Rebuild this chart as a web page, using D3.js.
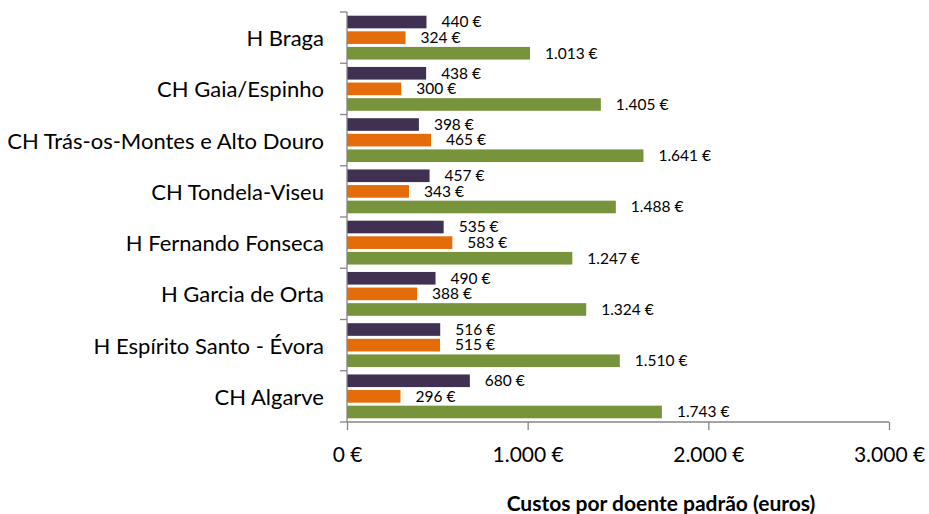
<!DOCTYPE html>
<html>
<head>
<meta charset="utf-8">
<script src="https://cdn.jsdelivr.net/npm/d3@7"></script>
<style>
  html, body { margin: 0; padding: 0; background: #fff; }
  svg { display: block; }
  text { font-family: Lato, "Open Sans", sans-serif; fill: #000; }
</style>
</head>
<body>
<svg id="chart" width="929" height="514"></svg>
<script>
const categories = ["H Braga", "CH Gaia/Espinho", "CH Trás-os-Montes e Alto Douro", "CH Tondela-Viseu",
  "H Fernando Fonseca", "H Garcia de Orta", "H Espírito Santo - Évora", "CH Algarve"];
const seriesNames = ["s1", "s2", "s3"];
const s1Values = [440, 438, 398, 457, 535, 490, 516, 680];
const s2Values = [324, 300, 465, 343, 583, 388, 515, 296];
const s3Values = [1013, 1405, 1641, 1488, 1247, 1324, 1510, 1743];
const xTicks = [0, 1000, 2000, 3000];
const xTitle = "Custos por doente padrão (euros)";
const colors = { s1: "#403152", s2: "#E46C0A", s3: "#77933C" };

const values = { s1: s1Values, s2: s2Values, s3: s3Values };
const pt = d3.formatLocale({ decimal: ",", thousands: ".", grouping: [3], currency: ["", " €"] });
const fmt = v => pt.format(",.0f")(v) + " €";

const svg = d3.select("#chart");
const mLeft = 347, mRight = 889, mTop = 12, mBottom = 422;

const x = d3.scaleLinear().domain([0, 3000]).range([mLeft, mRight]);
const y0 = d3.scaleBand().domain(categories).range([mTop, mBottom]).padding(0);
const gpad = 3.7;
const y1 = d3.scaleBand().domain(seriesNames).range([gpad, y0.bandwidth() - gpad]).paddingInner(0.19).paddingOuter(0);

const groups = svg.append("g").selectAll("g").data(categories).join("g")
  .attr("transform", d => `translate(0,${y0(d)})`);

groups.each(function(cat, i) {
  const g = d3.select(this);
  seriesNames.forEach(s => {
    const v = values[s][i];
    g.append("rect")
      .attr("x", x(0))
      .attr("y", y1(s))
      .attr("width", x(v) - x(0))
      .attr("height", y1.bandwidth())
      .attr("fill", colors[s]);
    g.append("text")
      .attr("x", x(v) + 15)
      .attr("y", y1(s) + y1.bandwidth() / 2 + 5.3)
      .style("font-size", "15.5px")
      .text(fmt(v));
  });
});

// Y axis
const yAxis = d3.axisLeft(y0).tickSize(0).tickPadding(23);
const gy = svg.append("g").attr("transform", `translate(${mLeft},0)`).call(yAxis);
gy.select(".domain").remove();
gy.selectAll("text").style("font-size", "22px").attr("fill", "#000")
  .attr("font-family", null).attr("dy", null).attr("y", 8.5);
const yTickPos = categories.map(c => y0(c)).concat([mBottom]);
svg.append("g").selectAll("line").data(yTickPos).join("line")
  .attr("x1", mLeft - 7).attr("x2", mLeft).attr("y1", d => d).attr("y2", d => d)
  .attr("stroke", "#868686").attr("stroke-width", 1.3);
svg.append("line").attr("x1", mLeft).attr("x2", mLeft).attr("y1", mTop).attr("y2", mBottom)
  .attr("stroke", "#868686").attr("stroke-width", 1.3);

// X axis
const xAxis = d3.axisBottom(x).tickValues(xTicks).tickSize(8).tickPadding(12).tickFormat(fmt);
const gx = svg.append("g").attr("transform", `translate(0,${mBottom})`).call(xAxis);
gx.select(".domain").attr("stroke", "#868686").attr("stroke-width", 1.3).attr("d", `M${mLeft},0H${mRight}`);
gx.selectAll(".tick line").attr("stroke", "#868686").attr("stroke-width", 1.3);
gx.selectAll("text").style("font-size", "21px").attr("fill", "#000")
  .attr("font-family", null).attr("dy", null).attr("y", 39.7);

svg.append("text")
  .attr("x", 661).attr("y", 510.5)
  .attr("text-anchor", "middle")
  .style("font-size", "21px").style("font-weight", "bold")
  .text(xTitle);
</script>
</body>
</html>
